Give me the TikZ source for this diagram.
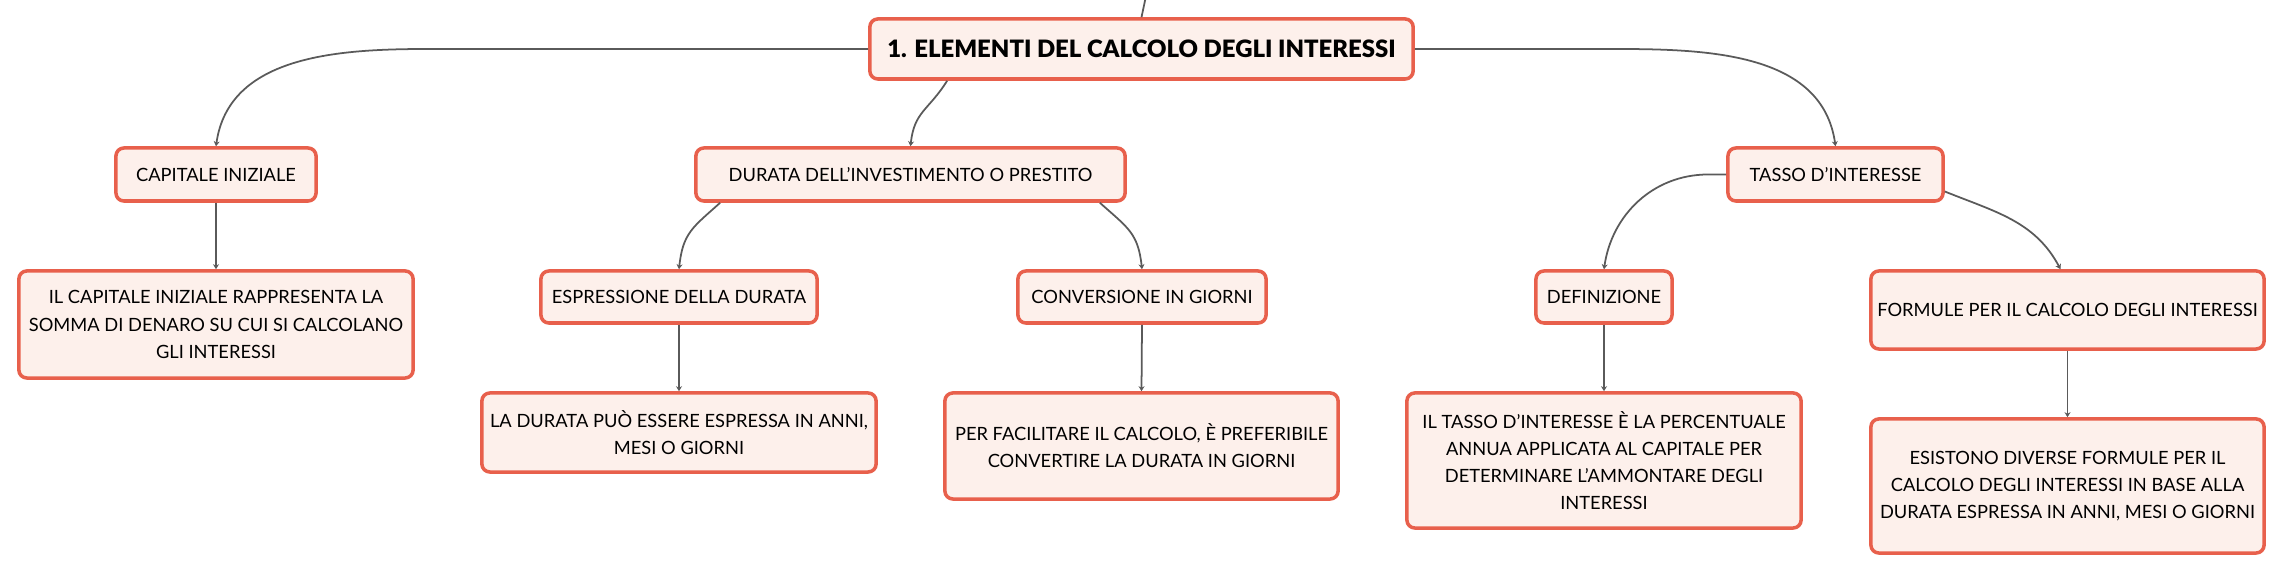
\documentclass[tikz,border=0pt]{standalone}
\usepackage{fontspec}
\setmainfont{Lato}
\newfontfamily\heavyfont{Lato Black}
\usepackage{tikz}
\usetikzlibrary{arrows.meta}
\definecolor{boxred}{HTML}{E8604C}
\definecolor{boxfill}{HTML}{FDF0EB}
\definecolor{linkgray}{HTML}{5A5A5A}

\begin{document}
\begin{tikzpicture}[x=0.01cm,y=-0.01cm,
        box/.style={draw=boxred,fill=boxfill,line width=1pt,rounded corners=0.08cm,align=center,inner sep=0pt,font=\fontsize{5.2}{7.7}\selectfont},
        link/.style={linkgray,line width=0.5pt,-{Stealth[length=0.5mm,width=0.6mm]}}]
        \useasboundingbox (0,0) rectangle (2284,574);

        \coordinate (root) at (1141.5,49);
        \coordinate (up) at (1146,-4);
        \coordinate (cap) at (216,174.5);
        \coordinate (dur) at (910.5,174.5);
        \coordinate (tas) at (1835.5,174.5);
        \coordinate (capd) at (216,324.5);
        \coordinate (esp) at (679,297);
        \coordinate (con) at (1142,297);
        \coordinate (def) at (1604,297);
        \coordinate (for) at (2067.5,310);
        \coordinate (espd) at (679,432.5);
        \coordinate (cond) at (1141.5,446);
        \coordinate (defd) at (1604,460.5);
        \coordinate (ford) at (2067.5,486);

        \node[box,minimum width=5.43cm,minimum height=0.60cm,font=\fontsize{6.8}{9}\selectfont\heavyfont] (RootNode) at (root){1. ELEMENTI DEL CALCOLO DEGLI INTERESSI};
        \node[box,minimum width=2.00cm,minimum height=0.53cm] (CapNode) at (cap){CAPITALE INIZIALE};
        \node[box,minimum width=4.29cm,minimum height=0.53cm] (DurNode) at (dur){DURATA DELL'INVESTIMENTO O PRESTITO};
        \node[box,minimum width=2.15cm,minimum height=0.53cm] (TasNode) at (tas){TASSO D'INTERESSE};
        \node[box,minimum width=3.94cm,minimum height=1.07cm] (CapDescNode) at (capd){IL CAPITALE INIZIALE RAPPRESENTA LA\\SOMMA DI DENARO SU CUI SI CALCOLANO\\GLI INTERESSI};
        \node[box,minimum width=2.76cm,minimum height=0.52cm] (EspNode) at (esp){ESPRESSIONE DELLA DURATA};
        \node[box,minimum width=2.48cm,minimum height=0.52cm] (ConNode) at (con){CONVERSIONE IN GIORNI};
        \node[box,minimum width=1.36cm,minimum height=0.52cm] (DefNode) at (def){DEFINIZIONE};
        \node[box,minimum width=3.93cm,minimum height=0.78cm] (ForNode) at (for){FORMULE PER IL CALCOLO DEGLI INTERESSI};
        \node[box,minimum width=3.94cm,minimum height=0.79cm] (EspDescNode) at (espd){LA DURATA PUÒ ESSERE ESPRESSA IN ANNI,\\MESI O GIORNI};
        \node[box,minimum width=3.93cm,minimum height=1.06cm] (ConDescNode) at (cond){PER FACILITARE IL CALCOLO, È PREFERIBILE\\CONVERTIRE LA DURATA IN GIORNI};
        \node[box,minimum width=3.94cm,minimum height=1.35cm] (DefDescNode) at (defd){IL TASSO D'INTERESSE È LA PERCENTUALE\\ANNUA APPLICATA AL CAPITALE PER\\DETERMINARE L'AMMONTARE DEGLI\\INTERESSI};
        \node[box,minimum width=3.93cm,minimum height=1.34cm] (ForDescNode) at (ford){ESISTONO DIVERSE FORMULE PER IL\\CALCOLO DEGLI INTERESSI IN BASE ALLA\\DURATA ESPRESSA IN ANNI, MESI O GIORNI};

        \draw[linkgray,line width=0.5pt] (RootNode.north) -- (up);
        \draw[link] (RootNode.west) -- ++(-440,0) to[out=180,in=82] (CapNode.north);
        \draw[link] ([xshift=0.79cm]RootNode.south west) to[out=238,in=84,looseness=1.2] (DurNode.north);
        \draw[link] (RootNode.east) -- ++(200,0) to[out=0,in=98] (TasNode.north);
        \draw[link] (CapNode.south) -- (CapDescNode.north);
        \draw[link] ([xshift=0.26cm]DurNode.south west) to[out=222,in=84,looseness=1.2] (EspNode.north);
        \draw[link] ([xshift=-0.27cm]DurNode.south east) to[out=-42,in=96,looseness=1.2] (ConNode.north);
        \draw[link] (TasNode.west) -- ++(-18,0) to[out=180,in=82] (DefNode.north);
        \draw[link] ([yshift=-0.17cm]TasNode.east) to[out=-22,in=118] ([xshift=-0.07cm]ForNode.north);
        \draw[link] (EspNode.south) -- (EspDescNode.north);
        \draw[link] (ConNode.south) -- (ConDescNode.north);
        \draw[link] (DefNode.south) -- (DefDescNode.north);
        \draw[link] (ForNode.south) -- (ForDescNode.north);
    \end{tikzpicture}
\end{document}
